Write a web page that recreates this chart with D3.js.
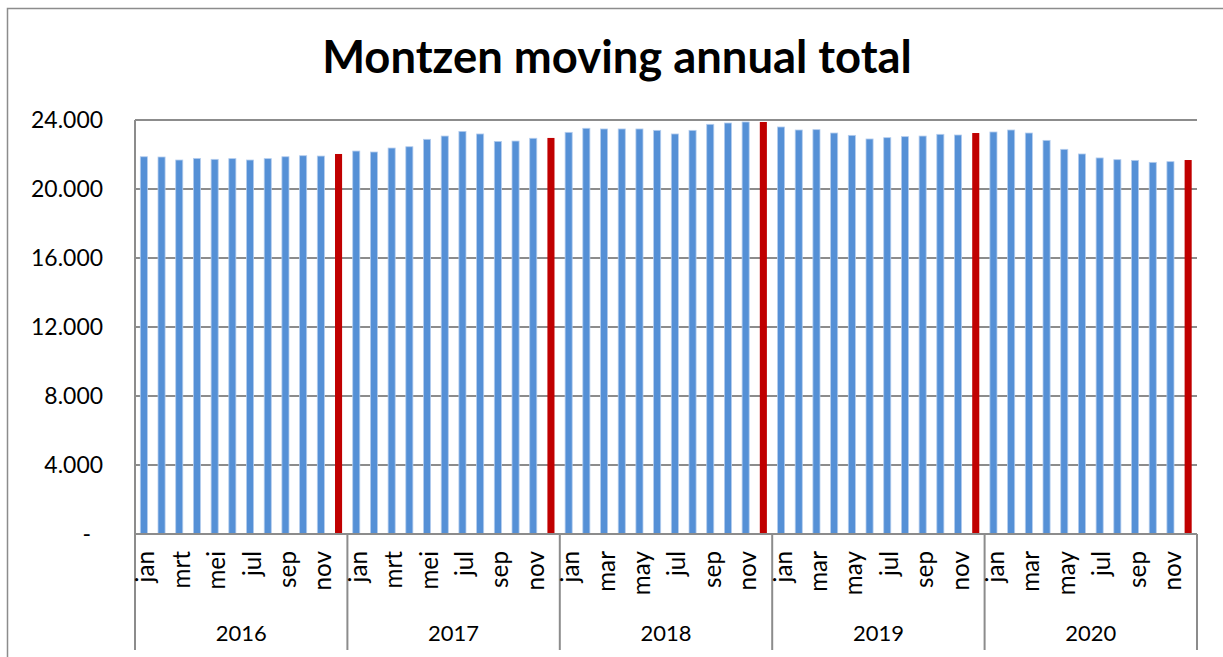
<!DOCTYPE html>
<html>
<head>
<meta charset="utf-8">
<script src="https://cdn.jsdelivr.net/npm/d3@7"></script>
<style>
  body { margin: 0; background: #fff; }
  text { font-family: Lato, "Open Sans", sans-serif; fill: #000; }
</style>
</head>
<body>
<svg id="chart" width="1223" height="657"></svg>
<script>
// years and months (2016/2017 labelled in Dutch, later years in English)
var years = ["2016", "2017", "2018", "2019", "2020"];
var monthsNl = ["jan", "feb", "mrt", "apr", "mei", "jun", "jul", "aug", "sep", "okt", "nov", "dec"];
var monthsEn = ["jan", "feb", "mar", "apr", "may", "jun", "jul", "aug", "sep", "oct", "nov", "dec"];

// moving annual total per month
var values2016 = [21870, 21855, 21680, 21775, 21720, 21760, 21680, 21760, 21870, 21930, 21910, 22030];
var values2017 = [22200, 22145, 22375, 22450, 22880, 23070, 23340, 23190, 22760, 22780, 22940, 22960];
var values2018 = [23285, 23520, 23480, 23480, 23480, 23400, 23190, 23400, 23750, 23825, 23885, 23885];
var values2019 = [23595, 23420, 23440, 23245, 23110, 22900, 22975, 23035, 23070, 23170, 23130, 23245];
var values2020 = [23305, 23420, 23245, 22820, 22300, 22030, 21800, 21700, 21660, 21545, 21585, 21680];

var yTicks = [0, 4000, 8000, 12000, 16000, 20000, 24000];

var allValues = [values2016, values2017, values2018, values2019, values2020];

var data = [];
years.forEach(function(year, yi) {
  var names = yi < 2 ? monthsNl : monthsEn;
  allValues[yi].forEach(function(v, mi) {
    data.push({ key: year + "-" + mi, year: year, month: names[mi], mi: mi, value: v });
  });
});

var svg = d3.select("#chart");

// pick a font size so that a sample string gets the width it has in the picture
var fitSize = function(sample, width, weight) {
  var t = svg.append("text").style("font-size", "100px").style("font-weight", weight || "normal").text(sample);
  var len = t.node().getComputedTextLength();
  t.remove();
  return len > 0 ? 100 * width / len : 20;
};
var titleSize = fitSize("Montzen moving annual total", 590, "bold");
var tickSize = fitSize("24.000", 72);
var yearSize = fitSize("2016", 51);
var monthSize = fitSize("mrt", 37.5);

var margin = { left: 135, right: 1197, top: 120, bottom: 534 };

var x = d3.scaleBand()
    .domain(data.map(function(d) { return d.key; }))
    .range([margin.left, margin.right])
    .paddingInner(0.6)
    .paddingOuter(0.3);

var y = d3.scaleLinear()
    .domain([0, 24000])
    .range([margin.bottom, margin.top]);

// outer chart border
svg.append("rect")
    .attr("x", 7.5).attr("y", 8.5)
    .attr("width", 1240).attr("height", 700)
    .attr("fill", "none")
    .attr("stroke", "#8c8c8c")
    .attr("stroke-width", 1.5);

// title
svg.append("text")
    .attr("x", 617).attr("y", 73)
    .attr("text-anchor", "middle")
    .style("font-size", titleSize + "px")
    .style("font-weight", "bold")
    .text("Montzen moving annual total");

// gridlines
svg.append("g").selectAll("line")
    .data(yTicks.filter(function(t) { return t > 0; }))
  .enter().append("line")
    .attr("x1", margin.left).attr("x2", margin.right)
    .attr("y1", function(d) { return y(d); })
    .attr("y2", function(d) { return y(d); })
    .attr("stroke", "#8c8c8c")
    .attr("stroke-width", 2);

// y tick labels
var fmt = function(d) { return d === 0 ? "-" : d3.format(",")(d).replace(/,/g, "."); };
svg.append("g").selectAll("text")
    .data(yTicks)
  .enter().append("text")
    .attr("x", function(d) { return d === 0 ? 91 : 103; })
    .attr("y", function(d) { return y(d); })
    .attr("dy", "0.35em")
    .attr("text-anchor", "end")
    .style("font-size", tickSize + "px")
    .text(fmt);

// bars
svg.append("g").selectAll("rect")
    .data(data)
  .enter().append("rect")
    .attr("x", function(d) { return x(d.key); })
    .attr("y", function(d) { return y(d.value); })
    .attr("width", x.bandwidth())
    .attr("height", function(d) { return y(0) - y(d.value); })
    .attr("fill", function(d) { return d.mi === 11 ? "#c00000" : "#5590d6"; })
    .attr("stroke", function(d) { return d.mi === 11 ? "none" : "#b4cdee"; })
    .attr("stroke-width", 0.8);

// x axis: baseline, plot left edge, year separators
var step = x.step();
var yearBounds = years.map(function(year, i) { return margin.left + i * 12 * step; });
yearBounds.push(margin.right);

svg.append("line")
    .attr("x1", margin.left).attr("x2", margin.right)
    .attr("y1", y(0)).attr("y2", y(0))
    .attr("stroke", "#8c8c8c").attr("stroke-width", 2);

svg.append("line")
    .attr("x1", margin.left).attr("x2", margin.left)
    .attr("y1", margin.top).attr("y2", y(0))
    .attr("stroke", "#8c8c8c").attr("stroke-width", 2);

svg.append("g").selectAll("line")
    .data(yearBounds)
  .enter().append("line")
    .attr("x1", function(d) { return d; }).attr("x2", function(d) { return d; })
    .attr("y1", y(0)).attr("y2", 650)
    .attr("stroke", "#8c8c8c").attr("stroke-width", 2);

// month labels, every other month
svg.append("g").selectAll("text")
    .data(data.filter(function(d) { return d.mi % 2 === 0; }))
  .enter().append("text")
    .attr("transform", function(d) {
      return "translate(" + (x(d.key) + x.bandwidth() / 2 + 10.5) + ",551) rotate(-90)";
    })
    .attr("text-anchor", "end")
    .style("font-size", monthSize + "px")
    .text(function(d) { return d.month; });

// year labels
svg.append("g").selectAll("text")
    .data(years)
  .enter().append("text")
    .attr("x", function(d, i) { return (yearBounds[i] + yearBounds[i + 1]) / 2; })
    .attr("y", 641)
    .attr("text-anchor", "middle")
    .style("font-size", yearSize + "px")
    .text(function(d) { return d; });
</script>
</body>
</html>
